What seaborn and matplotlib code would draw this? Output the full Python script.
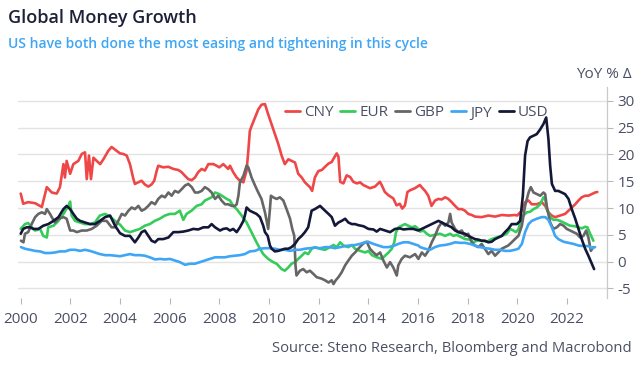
import matplotlib
matplotlib.use("Agg")
import matplotlib.pyplot as plt
from matplotlib.lines import Line2D
import seaborn as sns
import pandas as pd

# ---------------- data (YoY % change) ----------------
cny_year = [2000.0, 2000.1, 2000.3, 2000.58, 2000.85, 2001.05, 2001.25, 2001.45, 2001.58, 2001.72, 2001.78, 2001.85,
            2001.99, 2002.12, 2002.32, 2002.46, 2002.59, 2002.66, 2002.75, 2002.83, 2002.93, 2003.06, 2003.2, 2003.33,
            2003.53, 2003.66, 2003.86, 2004.0, 2004.13, 2004.27, 2004.4, 2004.54, 2004.6, 2004.74, 2004.87, 2005.0,
            2005.14, 2005.27, 2005.38, 2005.48, 2005.54, 2005.74, 2005.95, 2006.15, 2006.35, 2006.48, 2006.62, 2006.75,
            2006.89, 2007.02, 2007.15, 2007.29, 2007.42, 2007.56, 2007.76, 2007.89, 2008.0, 2008.16, 2008.36, 2008.43,
            2008.56, 2008.7, 2008.83, 2008.97, 2009.1, 2009.17, 2009.23, 2009.3, 2009.44, 2009.57, 2009.7, 2009.84,
            2009.97, 2010.11, 2010.24, 2010.38, 2010.51, 2010.64, 2010.78, 2010.91, 2011.05, 2011.18, 2011.32, 2011.45,
            2011.65, 2011.74, 2011.85, 2011.99, 2012.13, 2012.26, 2012.4, 2012.53, 2012.6, 2012.73, 2012.8, 2012.87,
            2013.0, 2013.13, 2013.27, 2013.4, 2013.54, 2013.67, 2013.8, 2013.94, 2014.07, 2014.27, 2014.47, 2014.54,
            2014.67, 2014.81, 2015.01, 2015.14, 2015.27, 2015.37, 2015.48, 2015.58, 2015.68, 2015.88, 2016.08, 2016.15,
            2016.29, 2016.42, 2016.55, 2016.69, 2016.83, 2016.96, 2017.1, 2017.23, 2017.36, 2017.5, 2017.63, 2017.77,
            2017.9, 2018.03, 2018.17, 2018.3, 2018.57, 2018.84, 2019.11, 2019.38, 2019.65, 2019.91, 2020.0, 2020.19,
            2020.32, 2020.46, 2020.59, 2020.79, 2020.99, 2021.13, 2021.26, 2021.39, 2021.53, 2021.73, 2021.93, 2022.07,
            2022.2, 2022.34, 2022.47, 2022.6, 2022.74, 2022.87, 2023.01, 2023.14, 2023.23]
cny_val = [12.7, 10.8, 11.1, 10.9, 10.2, 13.9, 12.9, 12.7, 13.9, 18.2, 15.7, 18.8,
           16.4, 18.2, 18.8, 20.1, 20.4, 15.4, 19.8, 15.4, 19.4, 18.8, 18.2, 19.1,
           20.7, 21.4, 20.7, 20.2, 20.1, 19.8, 18.2, 15.4, 14.5, 14.8, 15.1, 14.4,
           14.0, 14.4, 15.1, 17.0, 17.9, 17.6, 17.7, 17.3, 17.1, 16.7, 16.0, 15.4,
           15.2, 15.7, 16.7, 17.3, 17.0, 18.2, 18.2, 17.9, 17.6, 18.2, 17.3, 17.9,
           16.7, 15.7, 15.1, 14.8, 17.0, 20.7, 24.4, 25.3, 26.9, 28.4, 29.3, 29.4,
           27.5, 25.6, 23.8, 21.9, 19.8, 18.2, 19.1, 18.8, 18.5, 16.4, 15.7, 14.8,
           13.9, 13.2, 15.7, 16.9, 17.1, 17.7, 18.3, 18.6, 19.2, 20.2, 19.6, 14.9,
           14.6, 16.1, 15.8, 14.9, 14.6, 14.8, 14.3, 14.0, 13.7, 14.0, 14.9, 14.3,
           13.0, 12.4, 11.8, 10.5, 10.8, 9.9, 10.5, 13.0, 13.3, 13.7, 14.3, 13.9,
           13.2, 12.3, 10.4, 11.4, 11.7, 11.6, 12.0, 11.7, 11.1, 10.4, 9.8, 9.8,
           9.5, 8.9, 8.7, 8.4, 8.3, 8.6, 8.4, 8.7, 8.6, 8.7, 8.6, 9.5,
           11.1, 11.4, 10.7, 10.7, 11.1, 10.4, 9.2, 8.6, 8.3, 8.6, 8.9, 9.5,
           10.1, 10.7, 11.4, 12.0, 12.3, 12.3, 12.6, 12.9, 13.0]

eur_year = [2000.0, 2000.17, 2000.3, 2000.44, 2000.58, 2000.78, 2000.91, 2001.05, 2001.11, 2001.32, 2001.52, 2001.72,
            2001.92, 2001.99, 2002.05, 2002.19, 2002.39, 2002.59, 2002.79, 2002.99, 2003.19, 2003.4, 2003.6, 2003.8,
            2004.0, 2004.2, 2004.4, 2004.6, 2004.8, 2005.0, 2005.2, 2005.4, 2005.6, 2005.81, 2006.01, 2006.21,
            2006.41, 2006.55, 2006.68, 2006.88, 2007.09, 2007.29, 2007.42, 2007.56, 2007.69, 2007.83, 2008.0, 2008.1,
            2008.3, 2008.43, 2008.56, 2008.7, 2008.9, 2009.1, 2009.23, 2009.37, 2009.5, 2009.64, 2009.77, 2009.97,
            2010.17, 2010.31, 2010.51, 2010.64, 2010.78, 2010.91, 2011.05, 2011.18, 2011.32, 2011.45, 2011.58, 2011.72,
            2011.85, 2012.05, 2012.26, 2012.46, 2012.6, 2012.73, 2012.87, 2013.0, 2013.2, 2013.34, 2013.47, 2013.67,
            2013.88, 2014.01, 2014.15, 2014.35, 2014.55, 2014.68, 2014.82, 2014.95, 2015.05, 2015.12, 2015.22, 2015.35,
            2015.48, 2015.62, 2015.75, 2015.89, 2016.02, 2016.09, 2016.22, 2016.36, 2016.49, 2016.69, 2016.89, 2017.1,
            2017.3, 2017.43, 2017.56, 2017.77, 2017.9, 2018.1, 2018.24, 2018.37, 2018.57, 2018.77, 2018.97, 2019.18,
            2019.38, 2019.58, 2019.72, 2019.85, 2019.95, 2020.05, 2020.12, 2020.25, 2020.39, 2020.52, 2020.66, 2020.79,
            2020.93, 2021.06, 2021.13, 2021.2, 2021.33, 2021.46, 2021.6, 2021.73, 2021.86, 2022.0, 2022.13, 2022.33,
            2022.47, 2022.6, 2022.74, 2022.83, 2022.94, 2023.07]
eur_val = [6.1, 7.0, 7.2, 6.4, 5.8, 6.1, 4.8, 4.5, 6.4, 6.7, 7.6, 8.9,
           10.4, 11.2, 8.6, 7.6, 7.3, 7.0, 7.0, 7.3, 8.6, 8.9, 8.4, 7.6,
           6.9, 5.8, 5.5, 5.8, 6.1, 6.7, 7.0, 7.6, 8.0, 8.6, 8.9, 8.9,
           9.5, 7.8, 8.9, 9.5, 10.4, 10.7, 11.4, 11.7, 12.0, 12.9, 12.6, 12.3,
           11.7, 11.4, 10.4, 9.8, 8.6, 7.3, 6.1, 4.8, 3.6, 2.4, 1.4, 0.5,
           -0.1, -0.4, -1.4, -1.7, -1.1, -0.4, -0.1, 0.5, 1.1, 1.7, 1.4, 2.4,
           2.7, 2.4, 2.2, 2.7, 3.1, 2.7, 3.6, 3.0, 2.7, 3.1, 2.4, 2.0,
           1.7, 2.0, 1.2, 0.8, 0.5, 1.1, 1.7, 2.4, 3.6, 5.5, 6.4, 6.7,
           7.0, 6.7, 6.4, 6.6, 6.1, 5.6, 5.8, 5.2, 4.8, 5.0, 5.2, 4.8,
           5.2, 4.8, 5.0, 4.5, 4.2, 4.1, 3.6, 3.9, 3.9, 3.7, 4.2, 4.5,
           4.8, 5.2, 6.1, 5.8, 5.5, 6.0, 7.3, 8.6, 9.2, 9.3, 9.8, 10.1,
           10.7, 12.0, 11.7, 9.8, 8.3, 7.8, 7.8, 7.6, 7.3, 7.0, 6.7, 6.6,
           6.4, 6.2, 6.5, 6.4, 5.2, 3.9]

gbp_year = [2000.01, 2000.11, 2000.17, 2000.3, 2000.44, 2000.58, 2000.71, 2000.85, 2000.98, 2001.05, 2001.18, 2001.25,
            2001.38, 2001.52, 2001.72, 2001.85, 2001.99, 2002.12, 2002.26, 2002.46, 2002.66, 2002.86, 2003.06, 2003.26,
            2003.46, 2003.66, 2003.8, 2003.93, 2004.07, 2004.2, 2004.34, 2004.47, 2004.6, 2004.74, 2004.87, 2005.0,
            2005.14, 2005.27, 2005.41, 2005.54, 2005.68, 2005.81, 2005.95, 2006.08, 2006.21, 2006.35, 2006.48, 2006.62,
            2006.75, 2006.89, 2007.02, 2007.15, 2007.29, 2007.42, 2007.56, 2007.69, 2007.83, 2007.96, 2008.09, 2008.23,
            2008.36, 2008.5, 2008.63, 2008.7, 2008.77, 2008.83, 2008.97, 2009.1, 2009.17, 2009.3, 2009.44, 2009.57,
            2009.7, 2009.84, 2009.97, 2010.04, 2010.08, 2010.17, 2010.31, 2010.44, 2010.58, 2010.71, 2010.85, 2010.94,
            2011.02, 2011.07, 2011.11, 2011.25, 2011.38, 2011.52, 2011.65, 2011.79, 2011.92, 2012.13, 2012.26, 2012.4,
            2012.53, 2012.6, 2012.69, 2012.8, 2012.93, 2013.07, 2013.2, 2013.34, 2013.47, 2013.6, 2013.74, 2013.87,
            2013.94, 2014.07, 2014.21, 2014.34, 2014.48, 2014.61, 2014.75, 2014.88, 2015.01, 2015.15, 2015.21, 2015.35,
            2015.48, 2015.68, 2015.89, 2016.02, 2016.16, 2016.29, 2016.42, 2016.56, 2016.69, 2016.83, 2016.96, 2017.1,
            2017.23, 2017.3, 2017.36, 2017.5, 2017.63, 2017.77, 2017.9, 2018.03, 2018.17, 2018.3, 2018.44, 2018.57,
            2018.7, 2018.84, 2018.97, 2019.11, 2019.24, 2019.38, 2019.51, 2019.64, 2019.78, 2019.91, 2020.05, 2020.19,
            2020.32, 2020.46, 2020.55, 2020.66, 2020.79, 2020.93, 2021.06, 2021.13, 2021.19, 2021.33, 2021.46, 2021.6,
            2021.73, 2021.87, 2022.0, 2022.13, 2022.27, 2022.4, 2022.54, 2022.67, 2022.78, 2022.87, 2022.97, 2023.07]
gbp_val = [3.9, 3.6, 5.2, 5.5, 7.0, 8.3, 8.9, 9.2, 8.9, 9.8, 8.9, 8.3,
           7.3, 8.0, 8.3, 8.0, 5.8, 5.8, 5.5, 5.8, 5.8, 6.1, 6.7, 7.6,
           7.6, 6.4, 6.4, 7.6, 8.9, 8.6, 9.5, 10.1, 9.8, 10.4, 9.5, 9.8,
           10.4, 11.1, 10.7, 11.7, 12.3, 12.0, 12.9, 12.3, 13.2, 12.9, 13.5, 14.2,
           14.5, 13.9, 12.9, 12.9, 13.2, 13.9, 13.5, 12.9, 11.7, 12.3, 11.4, 10.7,
           10.7, 10.4, 10.4, 10.7, 12.3, 14.8, 16.0, 17.9, 17.6, 15.7, 14.2, 12.9,
           11.7, 9.2, 6.1, 9.8, 12.3, 12.0, 11.7, 12.0, 11.4, 9.8, 8.0, 6.1,
           4.8, -0.7, -2.6, -1.7, -1.4, -2.0, -1.7, -2.3, -2.9, -3.2, -3.5, -3.9,
           -3.5, -4.2, -3.5, -2.9, -2.0, -0.7, 0.2, 1.1, 1.7, 2.4, 3.1, 3.6,
           3.7, 2.4, 1.7, 1.2, 1.7, 0.2, -1.1, -0.1, -1.1, -2.6, -0.7, 0.5,
           1.1, 0.8, 1.4, 0.5, 1.7, 1.1, 2.0, 3.6, 4.8, 6.4, 7.3, 6.7,
           7.3, 8.9, 7.3, 6.1, 5.5, 5.8, 4.8, 5.2, 3.6, 3.0, 2.7, 3.3,
           2.4, 1.4, 2.0, 1.1, 1.7, 2.4, 2.7, 3.0, 3.6, 4.2, 4.8, 6.7,
           10.4, 12.9, 13.9, 12.9, 12.6, 12.3, 12.9, 12.6, 10.4, 7.3, 6.1, 6.4,
           7.0, 6.7, 6.1, 5.8, 5.5, 5.2, 4.5, 4.8, 5.8, 4.5, 2.0, 2.7]

jpy_year = [2000.01, 2000.17, 2000.38, 2000.58, 2000.78, 2000.98, 2001.18, 2001.38, 2001.58, 2001.79, 2001.99, 2002.19,
            2002.39, 2002.59, 2002.79, 2002.99, 2003.19, 2003.4, 2003.6, 2003.8, 2004.0, 2004.2, 2004.4, 2004.6,
            2004.8, 2005.0, 2005.2, 2005.41, 2005.61, 2005.81, 2006.01, 2006.21, 2006.41, 2006.62, 2006.82, 2007.02,
            2007.22, 2007.42, 2007.62, 2007.83, 2008.03, 2008.23, 2008.43, 2008.63, 2008.83, 2009.03, 2009.23, 2009.44,
            2009.64, 2009.84, 2010.04, 2010.24, 2010.44, 2010.64, 2010.85, 2011.05, 2011.25, 2011.45, 2011.65, 2011.85,
            2012.06, 2012.26, 2012.46, 2012.66, 2012.87, 2013.07, 2013.27, 2013.47, 2013.67, 2013.87, 2014.0, 2014.21,
            2014.41, 2014.61, 2014.81, 2015.01, 2015.21, 2015.42, 2015.62, 2015.82, 2016.02, 2016.09, 2016.29, 2016.49,
            2016.69, 2016.89, 2017.1, 2017.3, 2017.5, 2017.7, 2017.9, 2018.1, 2018.3, 2018.51, 2018.71, 2018.91,
            2019.11, 2019.31, 2019.51, 2019.71, 2019.91, 2020.05, 2020.19, 2020.32, 2020.46, 2020.59, 2020.79, 2020.99,
            2021.13, 2021.26, 2021.4, 2021.53, 2021.66, 2021.87, 2022.07, 2022.27, 2022.47, 2022.67, 2022.87, 2023.01,
            2023.14]
jpy_val = [2.7, 2.4, 2.2, 2.0, 1.9, 1.6, 1.6, 1.7, 1.9, 1.9, 2.2, 2.2,
           2.0, 2.2, 2.0, 1.7, 1.4, 1.2, 1.2, 1.1, 1.0, 1.2, 1.4, 1.2,
           1.2, 1.1, 0.8, 0.4, 0.5, 0.4, 0.5, 0.2, -0.1, -0.6, -0.4, -0.4,
           -0.1, 0.2, 0.5, 0.8, 0.8, 0.8, 1.0, 1.1, 1.2, 1.4, 1.9, 2.0,
           2.4, 2.5, 2.5, 2.4, 2.2, 2.2, 2.0, 2.2, 2.2, 2.4, 2.5, 2.6,
           2.5, 2.7, 2.7, 2.5, 2.7, 2.9, 3.0, 3.1, 3.3, 3.6, 3.7, 3.3,
           3.0, 2.7, 2.7, 2.9, 3.3, 3.6, 3.6, 3.3, 3.0, 2.7, 2.4, 2.2,
           2.7, 3.0, 3.1, 3.3, 3.6, 3.5, 3.5, 3.3, 3.0, 2.7, 2.5, 2.4,
           2.2, 2.2, 2.0, 2.0, 2.2, 2.4, 3.3, 5.5, 7.0, 7.6, 8.0, 8.3,
           8.3, 7.8, 6.4, 4.8, 4.2, 3.7, 3.5, 3.3, 3.0, 2.9, 2.9, 2.5,
           2.7]

usd_year = [2000.0, 2000.1, 2000.24, 2000.38, 2000.51, 2000.71, 2000.91, 2001.11, 2001.32, 2001.52, 2001.72, 2001.85,
            2001.99, 2002.12, 2002.26, 2002.39, 2002.59, 2002.79, 2002.99, 2003.19, 2003.4, 2003.6, 2003.8, 2004.0,
            2004.2, 2004.4, 2004.6, 2004.74, 2004.87, 2005.0, 2005.14, 2005.27, 2005.41, 2005.54, 2005.74, 2005.95,
            2006.15, 2006.35, 2006.55, 2006.75, 2006.95, 2007.15, 2007.36, 2007.56, 2007.69, 2007.83, 2008.03, 2008.16,
            2008.3, 2008.43, 2008.56, 2008.7, 2008.83, 2008.97, 2009.03, 2009.1, 2009.23, 2009.37, 2009.5, 2009.64,
            2009.77, 2009.84, 2009.95, 2010.04, 2010.11, 2010.24, 2010.38, 2010.51, 2010.64, 2010.78, 2010.91, 2011.05,
            2011.18, 2011.32, 2011.45, 2011.58, 2011.72, 2011.85, 2012.06, 2012.26, 2012.4, 2012.53, 2012.66, 2012.8,
            2012.93, 2013.07, 2013.2, 2013.34, 2013.47, 2013.6, 2013.81, 2014.01, 2014.21, 2014.34, 2014.48, 2014.68,
            2014.88, 2015.08, 2015.28, 2015.42, 2015.62, 2015.82, 2016.02, 2016.16, 2016.29, 2016.42, 2016.56, 2016.69,
            2016.83, 2016.96, 2017.1, 2017.23, 2017.36, 2017.5, 2017.63, 2017.77, 2017.9, 2018.03, 2018.17, 2018.3,
            2018.44, 2018.57, 2018.7, 2018.84, 2018.97, 2019.11, 2019.24, 2019.38, 2019.51, 2019.64, 2019.78, 2019.91,
            2019.99, 2020.12, 2020.23, 2020.32, 2020.42, 2020.52, 2020.66, 2020.79, 2020.93, 2021.06, 2021.17, 2021.26,
            2021.33, 2021.4, 2021.53, 2021.66, 2021.8, 2021.93, 2022.07, 2022.2, 2022.34, 2022.47, 2022.6, 2022.74,
            2022.87, 2023.01, 2023.1]
usd_val = [5.2, 6.1, 6.4, 6.4, 6.1, 6.1, 6.7, 7.0, 7.6, 8.3, 9.8, 10.4,
           9.8, 8.9, 8.0, 7.6, 7.3, 7.0, 7.0, 7.6, 8.3, 8.6, 6.7, 5.3,
           4.8, 4.8, 3.6, 4.5, 5.5, 5.8, 4.8, 3.9, 3.6, 4.2, 4.2, 4.5,
           5.5, 5.5, 5.6, 5.8, 6.1, 6.0, 6.4, 6.4, 7.0, 6.4, 5.8, 6.1,
           6.2, 5.8, 6.1, 5.5, 6.4, 7.6, 8.6, 10.1, 9.5, 9.2, 8.9, 8.3,
           6.7, 5.5, 4.8, 3.0, 2.4, 1.9, 2.0, 2.2, 2.4, 2.4, 2.7, 3.3,
           4.2, 4.8, 5.5, 6.4, 9.5, 9.8, 10.4, 9.5, 8.9, 8.3, 6.7, 7.3,
           7.6, 8.0, 7.3, 7.0, 7.0, 6.8, 6.6, 6.1, 6.0, 5.6, 6.1, 5.8,
           5.5, 6.1, 6.2, 6.0, 6.1, 6.1, 5.8, 6.1, 6.4, 6.7, 7.0, 7.3,
           7.6, 7.3, 7.0, 6.7, 6.4, 5.8, 5.5, 5.3, 5.2, 4.8, 4.5, 4.2,
           4.1, 3.9, 3.9, 3.6, 3.7, 4.2, 4.5, 4.8, 5.5, 6.1, 7.0, 7.0,
           7.0, 7.6, 12.3, 19.8, 22.5, 23.2, 23.5, 23.8, 24.7, 25.7, 26.9, 22.9,
           17.9, 14.5, 13.2, 13.2, 12.9, 12.6, 11.7, 9.8, 8.0, 6.1, 4.2, 2.4,
           1.1, -0.4, -1.4]

series_names = ["CNY", "EUR", "GBP", "JPY", "USD"]
series_colors = ["#ef4747", "#35cc5a", "#666666", "#3ea6f5", "#141838"]
x_ticks = list(range(2000, 2023, 2))
y_ticks = [-5, 0, 5, 10, 15, 20, 25, 30]

title = "Global Money Growth"
subtitle = "US have both done the most easing and tightening in this cycle"
unit_label = "YoY % Δ"
source = "Source: Steno Research, Bloomberg and Macrobond"

# ---------------- build long table ----------------
frames = []
for name, yr, vl in zip(series_names,
                        [cny_year, eur_year, gbp_year, jpy_year, usd_year],
                        [cny_val, eur_val, gbp_val, jpy_val, usd_val]):
    frames.append(pd.DataFrame({"year": yr, "value": vl, "series": name}))
df = pd.concat(frames, ignore_index=True)

# ---------------- style ----------------
sns.set_theme(style="white")
plt.rcParams["font.family"] = ["Open Sans", "DejaVu Sans"]
text_col = "#4a4f63"

fig = plt.figure(figsize=(6.42, 3.67), dpi=100)
ax = fig.add_axes([18 / 642, 1 - 298 / 367, (607 - 18) / 642, (298 - 87) / 367])

sns.lineplot(data=df, x="year", y="value", hue="series", hue_order=series_names,
             palette=dict(zip(series_names, series_colors)), estimator=None,
             linewidth=1.9, legend=False, ax=ax)

ax.set_xlim(1999.89, 2023.62)
ax.set_ylim(-6.8, 32.6)

ax.yaxis.tick_right()
ax.set_yticks(y_ticks)
ax.set_yticklabels([str(v) for v in y_ticks])
ax.set_xticks(x_ticks)
ax.set_xticklabels([str(v) for v in x_ticks])
ax.set_xlabel("")
ax.set_ylabel("")

for yv in y_ticks:
    ax.axhline(yv, color="#e3e3e3", lw=1.0, zorder=0)

for s in ["top", "left", "bottom"]:
    ax.spines[s].set_visible(False)
ax.spines["right"].set_color("#c9c9c9")
ax.spines["right"].set_linewidth(0.9)

ax.tick_params(axis="y", which="both", right=True, left=False, length=4.5, width=0.8,
               color="#b8b8b8", labelsize=11, labelcolor=text_col, pad=3)
ax.tick_params(axis="x", which="both", bottom=True, length=4, width=0.8,
               color="#b8b8b8", labelsize=11, labelcolor=text_col, pad=6)

# legend
handles = [Line2D([0], [0], color=c, lw=2.0) for c in series_colors]
fig.legend(handles, series_names, loc="center left",
           bbox_to_anchor=(285 / 642, 1 - 113 / 367), bbox_transform=fig.transFigure,
           ncol=5, frameon=False, fontsize=11, labelcolor=text_col,
           handlelength=0.95, handletextpad=0.3, columnspacing=0.45, borderpad=0,
           borderaxespad=0)

# titles and notes
fig.text(8 / 642, 1 - 18 / 367, title, fontsize=13, fontweight="semibold",
         color="#1c2038", va="center", ha="left")
fig.text(8 / 642, 1 - 44 / 367, subtitle, fontsize=10, fontweight="semibold",
         color="#3ea6f5", va="center", ha="left")
fig.text(632 / 642, 1 - 75 / 367, unit_label, fontsize=11, color=text_col,
         va="center", ha="right")
fig.text(632 / 642, 1 - 348 / 367, source, fontsize=10.6, color=text_col,
         va="center", ha="right")

fig.savefig("out.png", dpi=100)
